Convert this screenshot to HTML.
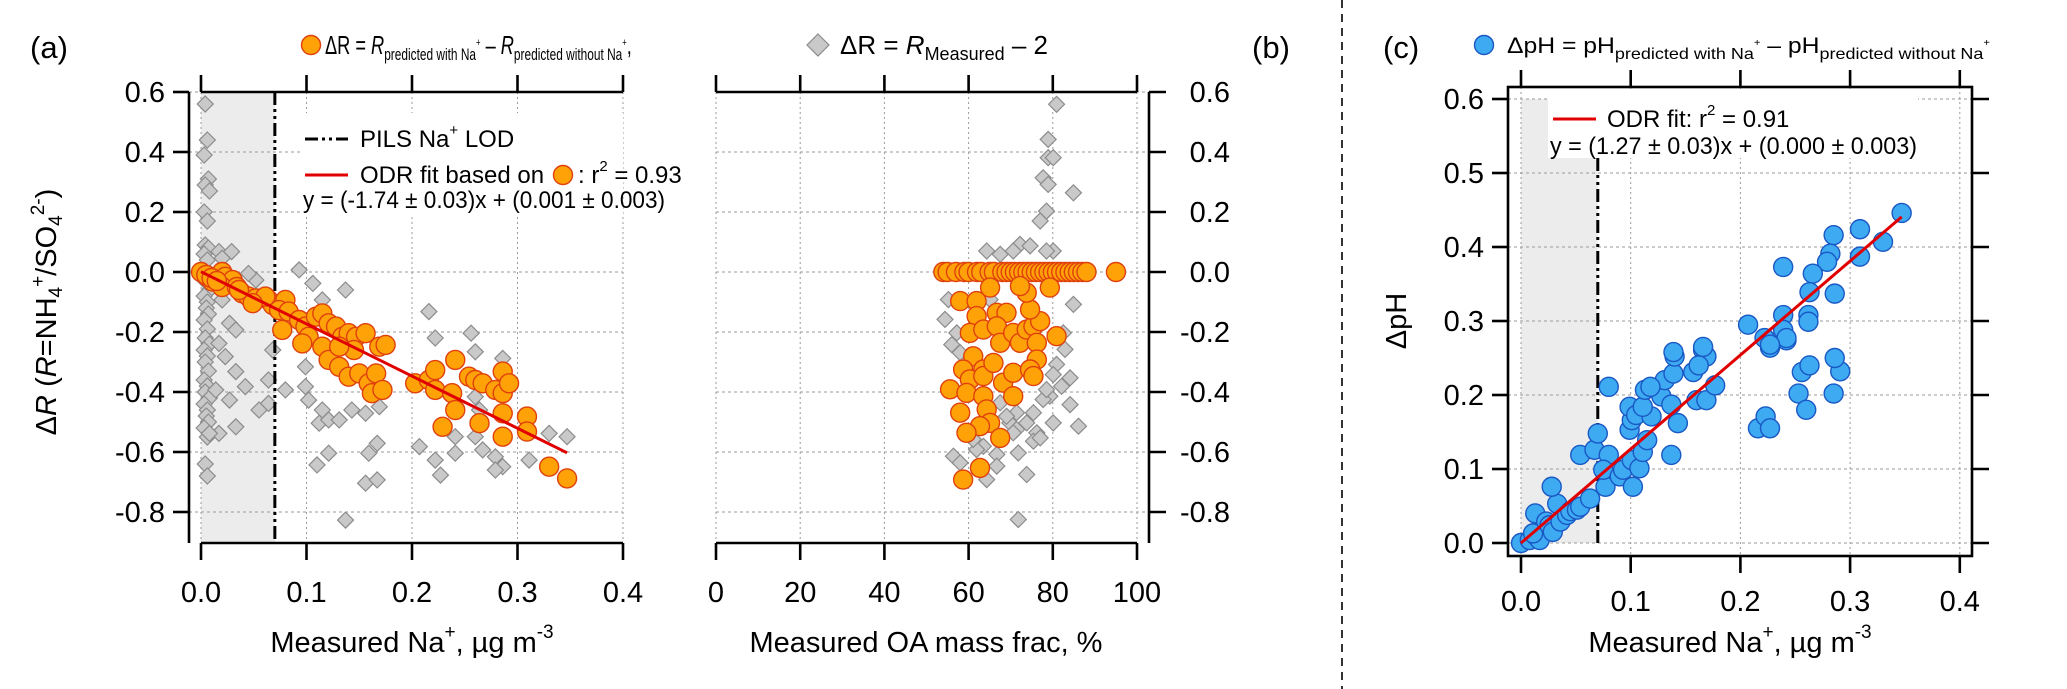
<!DOCTYPE html>
<html><head><meta charset="utf-8"><style>
html,body{margin:0;padding:0;background:#fff;}
svg{display:block;font-family:"Liberation Sans",Arial,sans-serif;}
</style></head><body>
<svg id="chart" width="2067" height="689" viewBox="0 0 2067 689" xmlns="http://www.w3.org/2000/svg">
<rect x="0" y="0" width="2067" height="689" fill="#fff"/>
<g id="layer-bg"></g>
<g id="layer-grid"></g>
<g id="layer-pts"></g>
<g id="layer-axes"></g>
<g id="layer-text" font-family="Liberation Sans, Arial, sans-serif" fill="#000">
  <text x="30" y="58" font-size="31">(a)</text>
  <text x="1252" y="58" font-size="31">(b)</text>
  <text x="1383" y="58" font-size="31">(c)</text>
  <g transform="translate(325,54) scale(0.70,1)">
  <text x="0" y="0" font-size="26">ΔR = <tspan font-style="italic">R</tspan><tspan font-size="17" dy="6">predicted with Na</tspan><tspan font-size="11" dy="-14">+</tspan><tspan dy="8"> – </tspan><tspan font-style="italic">R</tspan><tspan font-size="17" dy="6">predicted without Na</tspan><tspan font-size="11" dy="-14">+</tspan><tspan dy="8">,</tspan></text>
  </g>
  <text x="840" y="54" font-size="26">ΔR = <tspan font-style="italic">R</tspan><tspan font-size="18" dy="6">Measured</tspan><tspan dy="-6"> –  2</tspan></text>
  <text x="1507" y="53" font-size="22" textLength="483" lengthAdjust="spacingAndGlyphs">ΔpH = pH<tspan font-size="16" dy="6">predicted with Na</tspan><tspan font-size="10" dy="-13">+</tspan><tspan dy="7"> –  pH</tspan><tspan font-size="16" dy="6">predicted without Na</tspan><tspan font-size="10" dy="-13">+</tspan></text>
  <text transform="translate(56,312) rotate(-90)" text-anchor="middle" font-size="29">Δ<tspan font-style="italic">R</tspan> (<tspan font-style="italic">R</tspan>=NH<tspan font-size="19" dy="6">4</tspan><tspan font-size="19" dy="-18">+</tspan><tspan dy="12">/SO</tspan><tspan font-size="19" dy="6">4</tspan><tspan font-size="19" dy="-18">2-</tspan><tspan dy="12">)</tspan></text>
  <text transform="translate(1406,321) rotate(-90)" text-anchor="middle" font-size="29">ΔpH</text>
  <text x="412" y="652" text-anchor="middle" font-size="29">Measured Na<tspan font-size="19" dy="-14">+</tspan><tspan dy="14">, µg m</tspan><tspan font-size="19" dy="-14">-3</tspan></text>
  <text x="926" y="652" text-anchor="middle" font-size="29">Measured OA mass frac, %</text>
  <text x="1730" y="652" text-anchor="middle" font-size="29">Measured Na<tspan font-size="19" dy="-14">+</tspan><tspan dy="14">, µg m</tspan><tspan font-size="19" dy="-14">-3</tspan></text>
  <text x="360" y="147" font-size="24">PILS Na<tspan font-size="15" dy="-12">+</tspan><tspan dy="12"> LOD</tspan></text>
  <text x="360" y="183" font-size="24">ODR fit based on</text>
  <text x="578" y="183" font-size="24">: r<tspan font-size="15" dy="-12">2</tspan><tspan dy="12"> = 0.93</tspan></text>
  <text x="303" y="208" font-size="24" textLength="362" lengthAdjust="spacingAndGlyphs">y = (-1.74 ± 0.03)x + (0.001 ± 0.003)</text>
  <text x="1607" y="127" font-size="24">ODR fit: r<tspan font-size="15" dy="-12">2</tspan><tspan dy="12"> = 0.91</tspan></text>
  <text x="1550" y="154" font-size="24" textLength="367" lengthAdjust="spacingAndGlyphs">y = (1.27 ± 0.03)x + (0.000 ± 0.003)</text>
</g>
</svg>
<script>
// ---- data ----
const aOrangeNa = [0.000,0.006,0.011,0.020,0.023,0.030,0.020,0.034,0.039,0.045,0.052,0.064,0.068,0.080,0.074,0.083,0.077,0.093,0.099,0.102,0.109,0.115,0.121,0.128,0.134,0.140,0.147,0.156,0.115,0.121,0.131,0.140,0.150,0.159,0.166,0.169,0.175,0.162,0.172,0.203,0.216,0.222,0.222,0.241,0.238,0.241,0.254,0.260,0.267,0.279,0.286,0.286,0.292,0.286,0.264,0.229,0.286,0.309,0.309,0.330,0.347,0.145,0.131,0.096,0.061,0.036,0.049,0.005,0.010,0.015];
const aOrangeDR = [0.000,-0.016,-0.032,0.000,-0.016,-0.027,-0.050,-0.050,-0.071,-0.082,-0.088,-0.093,-0.110,-0.093,-0.127,-0.132,-0.193,-0.160,-0.182,-0.216,-0.149,-0.138,-0.171,-0.182,-0.216,-0.204,-0.216,-0.204,-0.249,-0.293,-0.316,-0.349,-0.338,-0.371,-0.338,-0.249,-0.243,-0.404,-0.393,-0.371,-0.360,-0.327,-0.393,-0.293,-0.404,-0.460,-0.349,-0.360,-0.371,-0.393,-0.332,-0.404,-0.371,-0.471,-0.504,-0.516,-0.549,-0.482,-0.532,-0.649,-0.688,-0.260,-0.249,-0.238,-0.082,-0.060,-0.104,-0.010,-0.020,-0.030];
const aGrayNa = [0.004,0.006,0.003,0.007,0.004,0.008,0.003,0.006,0.004,0.007,0.003,0.006,0.004,0.008,0.003,0.006,0.005,0.007,0.003,0.006,0.004,0.008,0.003,0.006,0.004,0.007,0.003,0.006,0.004,0.008,0.003,0.006,0.005,0.007,0.003,0.006,0.004,0.006,
 0.017,0.029,0.020,0.052,0.045,0.093,0.106,0.137,0.115,0.216,0.222,0.256,0.260,0.286,0.020,0.027,0.033,0.017,0.023,0.033,0.042,0.014,0.027,0.033,0.017,0.008,0.055,0.064,0.064,0.068,0.080,0.099,0.099,0.102,0.115,0.112,0.121,0.131,0.143,0.156,0.169,0.159,0.167,0.121,0.110,0.156,0.167,0.137,0.207,0.222,0.227,0.241,0.241,0.260,0.267,0.279,0.286,0.279,0.311,0.330,0.347,0.260,0.264];
const aGrayDR = [0.56,0.44,0.39,0.31,0.29,0.27,0.20,0.17,0.09,0.08,0.06,0.04,-0.03,-0.06,-0.08,-0.10,-0.12,-0.14,-0.16,-0.19,-0.22,-0.24,-0.26,-0.28,-0.30,-0.33,-0.36,-0.38,-0.40,-0.42,-0.44,-0.46,-0.48,-0.50,-0.52,-0.55,-0.64,-0.68,
 0.068,0.068,0.046,-0.027,-0.005,0.007,-0.038,-0.060,-0.093,-0.132,-0.220,-0.204,-0.266,-0.288,-0.093,-0.171,-0.193,-0.238,-0.282,-0.332,-0.382,-0.393,-0.427,-0.516,-0.538,-0.538,-0.460,-0.438,-0.360,-0.260,-0.393,-0.316,-0.382,-0.427,-0.460,-0.504,-0.493,-0.493,-0.460,-0.471,-0.449,-0.604,-0.571,-0.604,-0.643,-0.704,-0.693,-0.827,-0.582,-0.627,-0.677,-0.549,-0.604,-0.549,-0.593,-0.616,-0.649,-0.660,-0.627,-0.538,-0.549,-0.416,-0.460];
const bZeroOA = [54,55,57,59,60,62,63,65,66,68,69,70,71,72,73,74,75,76,77,78,79,80,81,82,83,84,85,86,87,88,95];
const bOrangeOA = [58.0,61.9,61.9,60.3,63.5,66.7,69.0,66.7,67.5,70.6,72.2,73.8,75.4,77.0,76.2,76.2,80.9,74.6,73.8,72.2,65.1,79.3,61.1,63.5,58.7,60.3,63.5,65.9,68.2,70.6,74.6,75.4,55.6,59.5,63.5,70.6,58.0,64.3,65.1,62.7,59.5,67.5,62.7,58.7];
const bOrangeDR = [-0.097,-0.097,-0.147,-0.203,-0.192,-0.136,-0.136,-0.181,-0.236,-0.203,-0.236,-0.192,-0.181,-0.164,-0.236,-0.292,-0.214,-0.125,-0.069,-0.047,-0.052,-0.052,-0.281,-0.325,-0.325,-0.358,-0.347,-0.303,-0.369,-0.336,-0.325,-0.347,-0.391,-0.403,-0.414,-0.414,-0.469,-0.458,-0.503,-0.514,-0.536,-0.553,-0.653,-0.692];
const bGrayOA = [80.9,78.9,78.9,80.1,77.7,78.9,84.9,78.5,77.0,64.3,67.5,72.2,74.6,70.6,80.1,78.5,84.9,55.2,54.4,57.2,56.0,82.9,80.9,80.1,84.1,82.1,79.3,84.1,80.1,86.1,75.4,71.4,69.8,73.8,76.2,75.4,71.4,71.8,66.7,63.5,61.9,56.4,58.0,64.3,73.8,71.8,66.7,61.1,67.5,77.7,58.0,82.5,77.0,69.0,78.5,65.1,70.6];
const bGrayDR = [0.559,0.442,0.381,0.381,0.314,0.292,0.264,0.203,0.170,0.070,0.059,0.092,0.087,0.070,0.070,0.070,-0.108,-0.092,-0.158,-0.203,-0.242,-0.258,-0.308,-0.342,-0.353,-0.381,-0.414,-0.442,-0.503,-0.514,-0.469,-0.469,-0.503,-0.503,-0.536,-0.564,-0.525,-0.603,-0.608,-0.581,-0.592,-0.614,-0.636,-0.692,-0.675,-0.825,-0.647,-0.558,-0.436,-0.425,-0.269,-0.203,-0.553,-0.481,-0.392,-0.092,-0.536];
const cNa = [0.000,0.008,0.014,0.017,0.011,0.013,0.023,0.026,0.029,0.036,0.033,0.028,0.042,0.045,0.051,0.054,0.063,0.054,0.067,0.070,0.080,0.077,0.075,0.090,0.093,0.102,0.101,0.108,0.111,0.115,0.099,0.101,0.099,0.105,0.119,0.111,0.128,0.131,0.113,0.118,0.137,0.143,0.137,0.139,0.140,0.157,0.160,0.169,0.177,0.166,0.169,0.162,0.080,0.216,0.223,0.227,0.253,0.260,0.256,0.263,0.285,0.291,0.286,0.227,0.242,
 0.347,0.309,0.330,0.285,0.309,0.282,0.279,0.266,0.239,0.263,0.286,0.239,0.262,0.262,0.207,0.239,0.242,0.222,0.227,0.139,0.166];
const cDpH = [0.000,0.004,0.009,0.004,0.013,0.040,0.029,0.024,0.015,0.029,0.053,0.076,0.038,0.043,0.045,0.049,0.060,0.119,0.126,0.148,0.119,0.076,0.099,0.090,0.099,0.076,0.112,0.101,0.123,0.139,0.153,0.166,0.184,0.173,0.171,0.184,0.198,0.220,0.207,0.211,0.187,0.162,0.119,0.229,0.252,0.231,0.193,0.193,0.213,0.261,0.252,0.240,0.211,0.155,0.171,0.155,0.202,0.180,0.231,0.240,0.202,0.232,0.250,0.264,0.274,
 0.446,0.424,0.407,0.416,0.387,0.391,0.380,0.364,0.373,0.339,0.337,0.308,0.308,0.299,0.295,0.288,0.277,0.277,0.268,0.258,0.265];
const aFit = [-1.74, 0.001];
const cFit = [1.27, 0.000];
const fitRangeNa = [0, 0.347];
const lodNa = 0.07;
const aXTicks = [0.0,0.1,0.2,0.3,0.4];
const aXTickLabels = ["0.0","0.1","0.2","0.3","0.4"];
const aYTicks = [0.6,0.4,0.2,0.0,-0.2,-0.4,-0.6,-0.8];
const aYTickLabels = ["0.6","0.4","0.2","0.0","-0.2","-0.4","-0.6","-0.8"];
const bXTicks = [0,20,40,60,80,100];
const bXTickLabels = ["0","20","40","60","80","100"];
const cXTicks = [0.0,0.1,0.2,0.3,0.4];
const cXTickLabels = ["0.0","0.1","0.2","0.3","0.4"];
const cYTicks = [0.0,0.1,0.2,0.3,0.4,0.5,0.6];
const cYTickLabels = ["0.0","0.1","0.2","0.3","0.4","0.5","0.6"];

// ---- scales ----
const xA = v => 201 + v*1055;
const yA = v => 272 - v*300;
const xB = v => 716 + v*4.21;
const xC = v => 1521 + v*1097;
const yC = v => 543 - v*740;
const NS = "http://www.w3.org/2000/svg";
function mk(layer, tag, attrs){const e=document.createElementNS(NS,tag);for(const k in attrs)e.setAttribute(k,attrs[k]);document.getElementById(layer).appendChild(e);return e;}
function ln(layer,x1,y1,x2,y2,st,w,dash){return mk(layer,'line',{x1,y1,x2,y2,stroke:st,'stroke-width':w,'stroke-dasharray':dash||'none'});}
const GRID='#9a9a9a';
const ORF='#FFA208', ORS='#E0400C', GRF='#C9C9C9', GRS='#8c8c8c', BLF='#3DAAF2', BLS='#1A58C4';
const LODDASH='13,4,3,4,3,4';

let e;
e=mk('layer-bg','rect',{x:xA(0),y:92,width:xA(lodNa)-xA(0),height:450,fill:'#ececec'});


e=mk('layer-bg','rect',{x:xC(0),y:yC(0.6),width:xC(lodNa)-xC(0),height:yC(0)-yC(0.6),fill:'#ececec'});



aXTicks.forEach(t=>{ln('layer-grid',xA(t),92,xA(t),542,GRID,1,'2,3');});
aYTicks.forEach(t=>{ln('layer-grid',189,yA(t),623,yA(t),GRID,1,'3,3');});
bXTicks.forEach(t=>{ln('layer-grid',xB(t),92,xB(t),542,GRID,1,'2,3');});
aYTicks.forEach(t=>{ln('layer-grid',716,yA(t),1149,yA(t),GRID,1,'3,3');});
cXTicks.forEach(t=>{ln('layer-grid',xC(t),87,xC(t),556,GRID,1,'2,3');});
cYTicks.forEach(t=>{ln('layer-grid',1508,yC(t),1972,yC(t),GRID,1,'3,3');});
mk('layer-grid','rect',{x:300,y:113,width:323,height:104,fill:'#fff'});
mk('layer-grid','rect',{x:1548,y:92,width:370,height:66,fill:'#fff'});

function diamond(layer,cx,cy){const r=8;return mk(layer,'polygon',{points:`${cx},${cy-r} ${cx+r},${cy} ${cx},${cy+r} ${cx-r},${cy}`,fill:GRF,stroke:GRS,'stroke-width':1.2});}
function circ(layer,cx,cy,f,s){return mk(layer,'circle',{cx,cy,r:9.5,fill:f,stroke:s,'stroke-width':1.4});}
aGrayNa.forEach((v,i)=>{const p=diamond('layer-pts',xA(v),yA(aGrayDR[i]));

});
bGrayOA.forEach((v,i)=>{const p=diamond('layer-pts',xB(v),yA(bGrayDR[i]));

});
e=ln('layer-pts',xA(lodNa),92,xA(lodNa),542,'#000',3,LODDASH);


aOrangeNa.forEach((v,i)=>{const c=circ('layer-pts',xA(v),yA(aOrangeDR[i]),ORF,ORS);

});
bZeroOA.forEach(v=>{const c=circ('layer-pts',xB(v),yA(0),ORF,ORS);

});
bOrangeOA.forEach((v,i)=>{const c=circ('layer-pts',xB(v),yA(bOrangeDR[i]),ORF,ORS);

});
e=ln('layer-pts',xA(fitRangeNa[0]),yA(aFit[0]*fitRangeNa[0]+aFit[1]),xA(fitRangeNa[1]),yA(aFit[0]*fitRangeNa[1]+aFit[1]),'#e00000',3);


e=ln('layer-pts',xC(lodNa),158,xC(lodNa),543,'#000',3,LODDASH);


cNa.forEach((v,i)=>{const c=circ('layer-pts',xC(v),yC(cDpH[i]),BLF,BLS);

});
e=ln('layer-pts',xC(fitRangeNa[0]),yC(cFit[0]*fitRangeNa[0]+cFit[1]),xC(fitRangeNa[1]),yC(cFit[0]*fitRangeNa[1]+cFit[1]),'#e00000',3);



const AW=2.6;
function txt(x,y,s,anchor,size){const t=mk('layer-axes','text',{x,y,'text-anchor':anchor,'font-size':size||29,fill:'#000'});t.textContent=s;return t;}
ln('layer-axes',189,92,189,543,'#000',AW);
ln('layer-axes',201,92,623,92,'#000',AW);
ln('layer-axes',201,543,623,543,'#000',AW);
aYTicks.forEach((t,i)=>{ln('layer-axes',173,yA(t),189,yA(t),'#000',AW);
const l=txt(165,yA(t)+10,aYTickLabels[i],'end');

});
aXTicks.forEach((t,i)=>{ln('layer-axes',xA(t),75,xA(t),92,'#000',AW);ln('layer-axes',xA(t),543,xA(t),560,'#000',AW);
const l=txt(xA(t),602,aXTickLabels[i],'middle');

});
ln('layer-axes',716,92,1137,92,'#000',AW);
ln('layer-axes',716,543,1137,543,'#000',AW);
ln('layer-axes',1149,92,1149,543,'#000',AW);
bXTicks.forEach((t,i)=>{ln('layer-axes',xB(t),75,xB(t),92,'#000',AW);ln('layer-axes',xB(t),543,xB(t),560,'#000',AW);
const l=txt(xB(t),602,bXTickLabels[i],'middle');

});
aYTicks.forEach((t,i)=>{ln('layer-axes',1149,yA(t),1166,yA(t),'#000',AW);
const l=txt(1230,yA(t)+10,aYTickLabels[i],'end');

});
e=mk('layer-axes','rect',{x:1508,y:87,width:464,height:469,fill:'none',stroke:'#000','stroke-width':AW});


cXTicks.forEach((t,i)=>{ln('layer-axes',xC(t),70,xC(t),87,'#000',AW);ln('layer-axes',xC(t),556,xC(t),573,'#000',AW);
const l=txt(xC(t),611,cXTickLabels[i],'middle');

});
cYTicks.forEach((t,i)=>{ln('layer-axes',1492,yC(t),1508,yC(t),'#000',AW);ln('layer-axes',1972,yC(t),1989,yC(t),'#000',AW);
const l=txt(1484,yC(t)+10,cYTickLabels[i],'end');

});
e=ln('layer-axes',1342,0,1342,689,'#000',1.6,'8,6');



e=circ('layer-axes',311,45,ORF,ORS);


e=mk('layer-axes','polygon',{points:'818,34 829,45 818,56 807,45',fill:GRF,stroke:GRS,'stroke-width':1.2});


e=circ('layer-axes',1484,45,BLF,BLS);


e=ln('layer-axes',305,139,348,139,'#000',3,'13,4,3,4,3,4');


e=ln('layer-axes',305,175,348,175,'#e00000',3);


e=circ('layer-axes',563,175,ORF,ORS);


e=ln('layer-axes',1553,119,1596,119,'#e00000',3);


</script>
</body></html>
